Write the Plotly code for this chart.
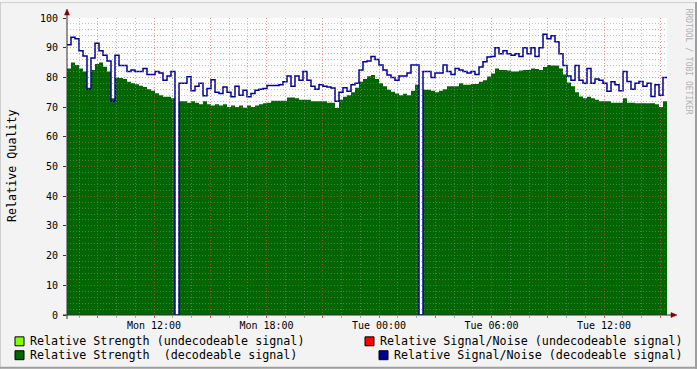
import plotly.graph_objects as go
import pandas as pd

# ---------------- data ----------------
strength_decodeable = [
    83, 85, 84.2, 83, 82, 76.5, 82.5, 84.5, 85, 83.6,
    82, 73, 80, 79.8, 79.5, 78.5, 78, 77.7, 77.2, 76.8,
    76, 75.5, 74.7, 74, 73.5, 73.5, 73, 0, 72, 72,
    71.5, 72, 71.5, 71, 72, 71, 70.5, 71, 70.5, 71,
    70, 70.5, 70, 70.5, 69.8, 70.5, 70, 70.5, 71, 71.3,
    71.5, 72.1, 72.1, 72.1, 72.1, 73.2, 73.2, 73, 72.5, 72.5,
    72.5, 72, 72, 72, 72, 71.5, 71.5, 69.7, 72.5, 73.5,
    74, 75, 76.5, 78.5, 79.5, 80.4, 80.8, 79.5, 78, 77,
    75.8, 75.2, 74.6, 74, 74.5, 74, 75.5, 77.5, 0, 75.8,
    75.8, 75.5, 75, 75.5, 76, 77, 77, 77, 78, 77.5,
    77.5, 77.8, 77.8, 78.5, 79, 80.3, 81.3, 83, 82.5, 82.5,
    82.3, 82, 82, 82.3, 82.5, 82.5, 83, 82.8, 82.5, 83.5,
    84.2, 84, 84, 83, 81, 78.3, 77, 75, 73.6, 73,
    73.5, 73, 72.5, 72, 72, 72, 71.5, 71.5, 71.5, 73,
    71.5, 71.5, 71.3, 71.3, 71.3, 71.3, 71.3, 71, 70, 72,
]
snr_decodeable = [
    91, 93.5, 93, 89, 87.2, 76, 86.5, 91.5, 89, 87.5,
    85.5, 72, 87.5, 84, 84, 82, 82.5, 82, 82, 83,
    81, 81, 82, 81.5, 79, 80.5, 82, 0, 78, 78,
    80.2, 75.5, 77, 78, 73.8, 76.3, 79.2, 75, 74.6, 76.8,
    75, 73.5, 77, 74, 75.7, 73.5, 74.6, 75.7, 76, 76.3,
    77.3, 77.3, 77.3, 77.5, 78.5, 80.5, 77, 80.5, 79, 82,
    79, 77, 76, 77.5, 77, 76.8, 76.4, 72, 75, 76.5,
    75.3, 77.5, 78, 82.5, 85.3, 85.5, 87, 86, 84.2, 82.5,
    80.8, 80, 79, 80.5, 80.5, 81.5, 84.2, 84.2, 0, 82,
    82, 80, 81.5, 81.5, 84.2, 82, 81, 83, 82.5, 82,
    81.5, 82, 81, 83.5, 85.3, 86.9, 87, 90, 88, 89,
    88, 87.5, 88, 87, 90, 88, 90, 87, 90, 94.5,
    93, 94, 92, 88, 84, 80.5, 79, 84, 79, 78,
    83, 78, 79.5, 79, 78, 75.3, 78.5, 77.5, 75.5, 82,
    78.6, 76, 78, 78.6, 77, 78, 73.6, 77.5, 74, 80,
]
start_time = "2024-01-08 07:21:36"
end_time = "2024-01-09 15:21:36"
tick_times = ["2024-01-08 12:00", "2024-01-08 18:00", "2024-01-09 00:00",
              "2024-01-09 06:00", "2024-01-09 12:00"]
tick_labels = ["Mon 12:00", "Mon 18:00", "Tue 00:00", "Tue 06:00", "Tue 12:00"]
y_ticks = [0, 10, 20, 30, 40, 50, 60, 70, 80, 90, 100]
legend_labels = [
    "Relative Strength (undecodeable signal)",
    "Relative Signal/Noise (undecodeable signal)",
    "Relative Strength  (decodeable signal)",
    "Relative Signal/Noise (decodeable signal)",
]
legend_colors = ["#80FF00", "#FF0000", "#006600", "#000099"]

# ---------------- build ----------------
n = len(strength_decodeable)
edges = pd.date_range(start_time, end_time, periods=n + 1)
y_strength = strength_decodeable + [strength_decodeable[-1]]
y_snr = snr_decodeable + [snr_decodeable[-1]]

W, H = 697, 369
L, R, T, B = 67, 30, 16, 54
PW, PH = W - L - R, H - T - B


def px(x):
    return (x - L) / PW


def py(y):
    return (H - B - y) / PH


MONO = "DejaVu Sans Mono, monospace"

fig = go.Figure()
fig.add_trace(go.Scatter(
    x=edges, y=y_strength, mode="lines", line=dict(shape="hv", width=0, color="#006600"),
    fill="tozeroy", fillcolor="#006600", name=legend_labels[2], showlegend=False,
    hoverinfo="skip"))
fig.add_trace(go.Scatter(
    x=edges, y=y_snr, mode="lines", line=dict(shape="hv", width=1.5, color="#000099"),
    name=legend_labels[3], showlegend=False, hoverinfo="skip"))
# grid-only subplot drawn above the data (as rrdtool does)
fig.add_trace(go.Scatter(x=[edges[0], edges[-1]], y=[None, None], xaxis="x2", yaxis="y2",
                         mode="lines", showlegend=False, hoverinfo="skip"))

grid_gray = "rgba(143,143,143,0.55)"
grid_red = "rgba(222,79,79,0.6)"

fig.update_layout(
    width=W, height=H,
    margin=dict(l=L, r=R, t=T, b=B, pad=0),
    paper_bgcolor="#F3F3F3",
    plot_bgcolor="rgba(0,0,0,0)",
    showlegend=False,
    hovermode=False,
    font=dict(family=MONO, size=10, color="#000000"),
    xaxis=dict(
        domain=[0, 1], range=[edges[0], edges[-1]], type="date",
        tickvals=tick_times, ticktext=tick_labels, ticks="", showgrid=False,
        zeroline=False, showline=False, tickfont=dict(family=MONO, size=10),
        ticklabelstandoff=3, fixedrange=True,
    ),
    yaxis=dict(
        domain=[0, 1], range=[0, 100], tickvals=y_ticks, ticks="outside", ticklen=3,
        tickcolor="#333333", showgrid=False, zeroline=False, showline=False,
        tickfont=dict(family=MONO, size=10), ticklabelstandoff=3, fixedrange=True,
    ),
    xaxis2=dict(
        domain=[0, 1], anchor="y2", range=[edges[0], edges[-1]], type="date",
        tick0="2024-01-08 00:00", dtick=3 * 3600 * 1000, showticklabels=False,
        ticks="outside", ticklen=2, tickcolor="#DE4F4F",
        showgrid=True, gridcolor=grid_red, griddash="1px,2px", gridwidth=1,
        minor=dict(dtick=3600 * 1000, showgrid=True, gridcolor=grid_gray,
                   griddash="1px,2px", gridwidth=1, ticks="outside", ticklen=2,
                   tickcolor="#AAAAAA"),
        zeroline=False, showline=False, fixedrange=True,
    ),
    yaxis2=dict(
        domain=[0, 1], anchor="x2", range=[0, 100], dtick=10, tick0=0,
        showticklabels=False, ticks="", mirror=False,
        showgrid=True, gridcolor=grid_red, griddash="1px,2px", gridwidth=1,
        minor=dict(dtick=2, showgrid=True, gridcolor=grid_gray,
                   griddash="1px,2px", gridwidth=1),
        zeroline=False, showline=False, fixedrange=True,
    ),
)

shapes = [
    # white canvas under everything
    dict(type="rect", xref="paper", yref="paper", x0=0, x1=1, y0=0, y1=1,
         fillcolor="#FFFFFF", line=dict(width=0), layer="below"),
    # axes
    dict(type="line", xref="paper", yref="paper", x0=px(L), x1=px(L), y0=py(H - B + 4), y1=py(11),
         line=dict(color="#333333", width=1), layer="above"),
    dict(type="line", xref="paper", yref="paper", x0=px(L - 4), x1=px(672), y0=0, y1=0,
         line=dict(color="#333333", width=1), layer="above"),
    # arrow heads
    dict(type="path", xref="paper", yref="paper",
         path=f"M {px(L - 2.5)},{py(13)} L {px(L + 2.5)},{py(13)} L {px(L)},{py(7)} Z",
         fillcolor="#7F0000", line=dict(color="#7F0000", width=0.5), layer="above"),
    dict(type="path", xref="paper", yref="paper",
         path=f"M {px(671)},{py(H - B - 2.5)} L {px(671)},{py(H - B + 2.5)} L {px(677)},{py(H - B)} Z",
         fillcolor="#7F0000", line=dict(color="#7F0000", width=0.5), layer="above"),
    # 3D frame around the image
    dict(type="line", xref="paper", yref="paper", x0=px(0), x1=px(W), y0=py(0.5), y1=py(0.5),
         line=dict(color="#CFCFCF", width=1)),
    dict(type="line", xref="paper", yref="paper", x0=px(0.5), x1=px(0.5), y0=py(0), y1=py(H),
         line=dict(color="#CFCFCF", width=1)),
    dict(type="line", xref="paper", yref="paper", x0=px(W - 1), x1=px(W - 1), y0=py(0), y1=py(H),
         line=dict(color="#9E9E9E", width=2)),
    dict(type="line", xref="paper", yref="paper", x0=px(0), x1=px(W), y0=py(H - 1), y1=py(H - 1),
         line=dict(color="#9E9E9E", width=2)),
]

# legend squares (two columns)
sq_pos = [(15, 337), (365, 337), (15, 351), (379, 351)]
for (sx, sy), col in zip(sq_pos, legend_colors):
    shapes.append(dict(type="rect", xref="paper", yref="paper",
                       x0=px(sx), x1=px(sx + 9), y0=py(sy + 9), y1=py(sy),
                       fillcolor=col, line=dict(color="#000000", width=1)))

annotations = [
    dict(text="Relative Quality", xref="paper", yref="paper", x=px(12), y=py(165),
         textangle=-90, showarrow=False, xanchor="center", yanchor="middle",
         font=dict(family=MONO, size=11.7, color="#000000")),
    dict(text="RRDTOOL / TOBI OETIKER", xref="paper", yref="paper", x=px(688), y=py(60),
         textangle=90, showarrow=False, xanchor="center", yanchor="middle",
         font=dict(family=MONO, size=8, color="#B0B0B0")),
]
leg_text_pos = [(29, 341), (379, 341), (29, 355), (393, 355)]
for (tx, ty), lab in zip(leg_text_pos, legend_labels):
    annotations.append(dict(text=lab.replace(" ", "&nbsp;"), xref="paper", yref="paper",
                            x=px(tx), y=py(ty), showarrow=False, xanchor="left",
                            yanchor="middle", borderpad=0,
                            font=dict(family=MONO, size=11.7, color="#000000")))

fig.update_layout(shapes=shapes, annotations=annotations)
fig.write_html(
    "out.html",
    config={"displayModeBar": False, "staticPlot": True},
    post_script="document.body.style.margin='0px';document.body.style.overflow='hidden';",
)
